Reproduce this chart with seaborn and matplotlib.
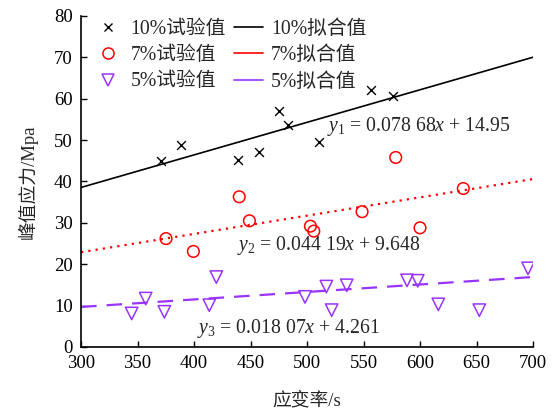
import numpy as np
import pandas as pd
import matplotlib
matplotlib.use("Agg")
import matplotlib.pyplot as plt
from matplotlib.lines import Line2D
import seaborn as sns

# ---- data ----
x10 = [370.8, 388.5, 439.2, 457.3, 475.2, 482.9, 510.9, 556.4, 576.4]
y10 = [44.9, 48.7, 45.1, 47.2, 57.1, 53.6, 49.5, 62.2, 60.7]

x7 = [375.2, 399.4, 440.0, 449.0, 503.0, 506.0, 548.7, 578.5, 600.0, 638.3]
y7 = [26.2, 23.1, 36.3, 30.5, 29.2, 28.0, 32.7, 45.8, 28.8, 38.3]

x5 = [344.8, 357.2, 373.7, 413.5, 419.7, 498.2, 517.1, 521.8, 535.1, 588.5, 598.0, 616.2, 652.5, 695.6]
y5 = [8.1, 11.7, 8.5, 10.1, 16.9, 12.1, 14.6, 8.9, 14.9, 16.1, 16.0, 10.3, 8.9, 19.0]

# fit coefficients (slope, intercept)
fit10 = (0.07868, 14.95)
fit7 = (0.04419, 9.648)
fit5 = (0.01807, 4.261)
fit_x = [300, 700]

scatter_labels = ["10%试验值", "7%试验值", "5%试验值"]
fit_labels = ["10%拟合值", "7%拟合值", "5%拟合值"]
eq_texts = [r"$y_1$ = 0.078 68$x$ + 14.95",
            r"$y_2$ = 0.044 19$x$ + 9.648",
            r"$y_3$ = 0.018 07$x$ + 4.261"]
x_ticks = [300, 350, 400, 450, 500, 550, 600, 650, 700]
y_ticks = [0, 10, 20, 30, 40, 50, 60, 70, 80]

sns.set_style("ticks")
plt.rcParams['font.family'] = ['Liberation Serif', 'Noto Sans CJK SC']
plt.rcParams['mathtext.fontset'] = 'custom'
plt.rcParams['mathtext.rm'] = 'Liberation Serif'
plt.rcParams['mathtext.it'] = 'Liberation Serif:italic'
plt.rcParams['xtick.direction'] = 'in'
plt.rcParams['ytick.direction'] = 'in'

FS = 13.5
FS2 = 14.2
purple = '#9933FF'
red = '#FF0000'

fig = plt.figure(figsize=(5.59, 4.09), dpi=100)
ax = fig.add_axes([0.145, 0.1516, 0.8085, 0.8094])

df10 = pd.DataFrame({"x": x10, "y": y10})
df7 = pd.DataFrame({"x": x7, "y": y7})
df5 = pd.DataFrame({"x": x5, "y": y5})

def fit_df(c):
    fx = np.array(fit_x, dtype=float)
    return pd.DataFrame({"x": fx, "y": c[0] * fx + c[1]})

sns.lineplot(data=fit_df(fit10), x="x", y="y", ax=ax, color='black', linewidth=1.2)
sns.lineplot(data=fit_df(fit7), x="x", y="y", ax=ax, color=red, linewidth=1.6)
ax.lines[-1].set_dashes([1, 2.3])
sns.lineplot(data=fit_df(fit5), x="x", y="y", ax=ax, color=purple, linewidth=1.6)
ax.lines[-1].set_dashes([7, 4.5])

sns.scatterplot(data=df10, x="x", y="y", ax=ax, marker='x', s=40, color='black', linewidth=1.0)
sns.scatterplot(data=df7, x="x", y="y", ax=ax, marker='o', s=70, facecolor='none',
                edgecolor=red, linewidth=1.1)
sns.scatterplot(data=df5, x="x", y="y", ax=ax, marker='v', s=80, facecolor='none',
                edgecolor=purple, linewidth=1.1)

ax.set_xlim(300, 700)
ax.set_ylim(0, 80)
ax.set_xticks(x_ticks)
ax.set_yticks(y_ticks)
ax.tick_params(labelsize=FS, length=4, width=1, colors='black', pad=6)
for s in ['top', 'right']:
    ax.spines[s].set_visible(False)
for s in ['left', 'bottom']:
    ax.spines[s].set_linewidth(1.2)
    ax.spines[s].set_color('black')

ax.set_xlabel("应变率/s", fontsize=FS, labelpad=14)
ax.set_ylabel("峰值应力/Mpa", fontsize=FS, labelpad=12)

ax.text(517.5, 53.3, eq_texts[0], fontsize=FS2, va='center', ha='left')
ax.text(438, 24.6, eq_texts[1], fontsize=FS2, va='center', ha='left')
ax.text(402.5, 4.4, eq_texts[2], fontsize=FS2, va='center', ha='left')

handles = [
    Line2D([], [], marker='x', linestyle='none', color='black', markersize=6, markeredgewidth=1.0),
    Line2D([], [], marker='o', linestyle='none', markerfacecolor='none', markeredgecolor=red, markersize=8, markeredgewidth=1.1),
    Line2D([], [], marker='v', linestyle='none', markerfacecolor='none', markeredgecolor=purple, markersize=8, markeredgewidth=1.1),
    Line2D([], [], color='black', linewidth=1.2),
    Line2D([], [], color=red, linewidth=1.2),
    Line2D([], [], color=purple, linewidth=1.2),
]
labels = scatter_labels + fit_labels
ax.legend(handles, labels, ncol=2, loc='upper left', frameon=False, fontsize=FS2,
          bbox_to_anchor=(0.0, 1.025), handlelength=1.5, handletextpad=0.4,
          columnspacing=0.4, labelspacing=0.38, borderaxespad=0.2)

fig.savefig("out.png", dpi=100)
